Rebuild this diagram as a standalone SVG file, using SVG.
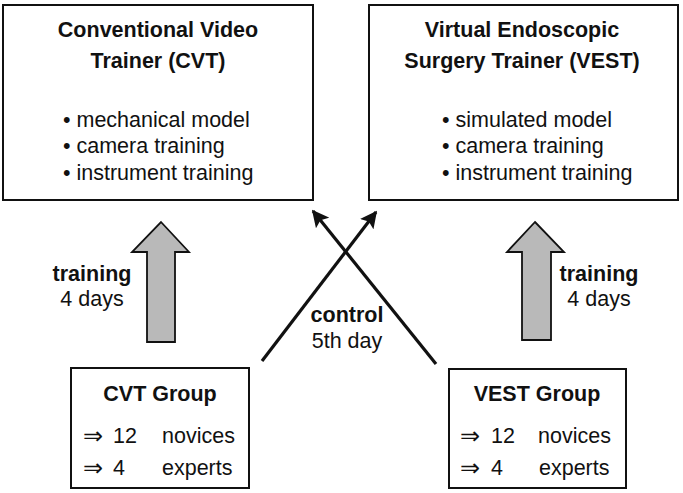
<svg xmlns="http://www.w3.org/2000/svg" width="683" height="493" viewBox="0 0 683 493">
<defs>
<style>
.box{fill:#fff;stroke:#111;stroke-width:2}
.t{font-family:"Liberation Sans",Arial,sans-serif;font-size:21.5px;fill:#111}
.b{font-weight:bold}
.c{text-anchor:middle}
.ar{font-family:"DejaVu Sans",sans-serif;font-size:24px;fill:#111}
.blk{fill:#b9b9b9;stroke:#111;stroke-width:1.8;stroke-linejoin:miter}
.ln{stroke:#111;stroke-width:3.2;fill:none}
</style>
<marker id="ah" viewBox="0 0 10 10" refX="9" refY="5" markerWidth="17" markerHeight="17" markerUnits="userSpaceOnUse" orient="auto">
<path d="M0,0 L10,5 L0,10 L2,5 Z" fill="#111"/>
</marker>
</defs>
<rect width="683" height="493" fill="#fff"/>

<g id="cvt-trainer">
<rect class="box" x="3" y="5" width="310" height="195"/>
<text class="t b c" x="158" y="37">Conventional Video</text>
<text class="t b c" x="158" y="68">Trainer (CVT)</text>
<text class="t" x="63" y="127">• mechanical model</text>
<text class="t" x="63" y="153">• camera training</text>
<text class="t" x="63" y="180">• instrument training</text>
</g>

<g id="vest-trainer">
<rect class="box" x="369" y="5" width="309" height="195"/>
<text class="t b c" x="522" y="37">Virtual Endoscopic</text>
<text class="t b c" x="522" y="68">Surgery Trainer (VEST)</text>
<text class="t" x="442" y="127">• simulated model</text>
<text class="t" x="442" y="153">• camera training</text>
<text class="t" x="442" y="180">• instrument training</text>
</g>

<g id="cvt-group">
<rect class="box" x="71" y="368" width="178" height="120"/>
<text class="t b c" x="160" y="401">CVT Group</text>
<text class="ar" x="83" y="444">⇒</text>
<text class="t" x="113" y="443">12</text>
<text class="t" x="162" y="443">novices</text>
<text class="ar" x="83" y="476">⇒</text>
<text class="t" x="113" y="475">4</text>
<text class="t" x="162" y="475">experts</text>
</g>

<g id="vest-group">
<rect class="box" x="449" y="369" width="177" height="119"/>
<text class="t b c" x="537" y="401">VEST Group</text>
<text class="ar" x="460" y="444">⇒</text>
<text class="t" x="491" y="443">12</text>
<text class="t" x="538" y="443">novices</text>
<text class="ar" x="460" y="476">⇒</text>
<text class="t" x="491" y="475">4</text>
<text class="t" x="539" y="475">experts</text>
</g>

<g id="connectors">
<polygon class="blk" points="161,222 189,252 175,252 175,342 147,342 147,252 132,252"/>
<polygon class="blk" points="535,222 564,252 551,252 551,340 522,340 522,252 507,252"/>
<line class="ln" x1="262" y1="361" x2="376" y2="212" marker-end="url(#ah)"/>
<line class="ln" x1="436" y1="364" x2="313" y2="211" marker-end="url(#ah)"/>
</g>

<g id="labels">
<text class="t b c" x="92" y="281">training</text>
<text class="t c" x="92" y="306">4 days</text>
<text class="t b c" x="599" y="281">training</text>
<text class="t c" x="599" y="306">4 days</text>
<text class="t b c" x="347" y="322">control</text>
<text class="t c" x="347" y="348">5th day</text>
</g>
</svg>
